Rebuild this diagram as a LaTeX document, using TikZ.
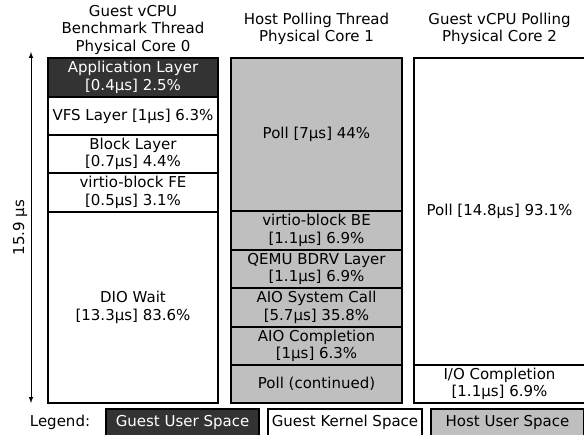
\documentclass[tikz,border=0pt]{standalone}
\usepackage{fontspec}
\setmainfont{DejaVu Sans}
\usetikzlibrary{positioning}
\definecolor{slabdark}{RGB}{51, 51, 51}
\definecolor{slabgrey}{RGB}{191, 191, 191}

\begin{document}
\begin{tikzpicture}[
    x=1pt, y=-1pt,
    >=latex,
    font=\fontsize{15}{17.5}\selectfont,
    % node styles
    layer/.style = {
      draw=black,
      line width=1.1pt,
      outer sep=0pt,
      inner sep=0pt,
      align=center
    },
    guser/.style = {layer, fill=slabdark, text=white},
    gkern/.style = {layer, fill=white},
    huser/.style = {layer, fill=slabgrey},
    coltitle/.style = {align=center},
    % arrow styles
    span/.style = {<->, line width=1pt, draw=black}
  ]
  \clip (0,0) rectangle (584,434);

  % --- Titles
  \node[coltitle] (title0) at (133,29.5) {Guest vCPU\\Benchmark Thread\\Physical Core 0};
  \node[coltitle] (title1) at (316.5,29) {Host Polling Thread\\Physical Core 1};
  \node[coltitle] (title2) at (499.5,29) {Guest vCPU Polling\\Physical Core 2};

  % --- Core 0
  \node[guser, minimum width=170pt, minimum height=39pt, anchor=north] (app) at (133,58)
    {Application Layer\\{[0.4µs] 2.5\%}};
  \node[gkern, minimum width=170pt, minimum height=38pt, below=0pt of app] (vfs)
    {VFS Layer [1µs] 6.3\%};
  \node[gkern, minimum width=170pt, minimum height=38pt, below=0pt of vfs] (blk)
    {Block Layer\\{[0.7µs] 4.4\%}};
  \node[gkern, minimum width=170pt, minimum height=39pt, below=0pt of blk] (fe)
    {virtio-block FE\\{[0.5µs] 3.1\%}};
  \node[gkern, minimum width=170pt, minimum height=191pt, below=0pt of fe] (dio)
    {DIO Wait\\{[13.3µs] 83.6\%}};

  % --- Core 1
  \node[huser, minimum width=171pt, minimum height=153pt, anchor=north] (poll) at (316.5,58)
    {Poll [7µs] 44\%};
  \node[huser, minimum width=171pt, minimum height=39pt, below=0pt of poll] (be)
    {virtio-block BE\\{[1.1µs] 6.9\%}};
  \node[huser, minimum width=171pt, minimum height=38pt, below=0pt of be] (qemu)
    {QEMU BDRV Layer\\{[1.1µs] 6.9\%}};
  \node[huser, minimum width=171pt, minimum height=39pt, below=0pt of qemu] (aiosys)
    {AIO System Call\\{[5.7µs] 35.8\%}};
  \node[huser, minimum width=171pt, minimum height=38pt, below=0pt of aiosys] (aiocomp)
    {AIO Completion\\{[1µs] 6.3\%}};
  \node[huser, minimum width=171pt, minimum height=38pt, below=0pt of aiocomp] (pollc)
    {Poll (continued)};

  % --- Core 2
  \node[gkern, minimum width=171pt, minimum height=307pt, anchor=north] (vpoll) at (499.5,58)
    {Poll [14.8µs] 93.1\%};
  \node[gkern, minimum width=171pt, minimum height=38pt, below=0pt of vpoll] (iocomp)
    {I/O Completion\\{[1.1µs] 6.9\%}};

  % --- Time span
  \coordinate (spantop) at (31,52);
  \coordinate (spanbot) at (31,403);
  \draw[span] (spanbot) -- node[rotate=90, above] (spanlbl) {15.9 µs} (spantop);

  % --- Legend
  \node (legend) at (60,422) {Legend:};
  \node[guser, minimum width=153pt, minimum height=27pt] (lguser) at (182.5,422.5) {Guest User Space};
  \node[gkern, minimum width=154pt, minimum height=27pt, right=9pt of lguser] (lgkern) {Guest Kernel Space};
  \node[huser, minimum width=153pt, minimum height=27pt, right=9pt of lgkern] (lhuser) {Host User Space};

\end{tikzpicture}
\end{document}
